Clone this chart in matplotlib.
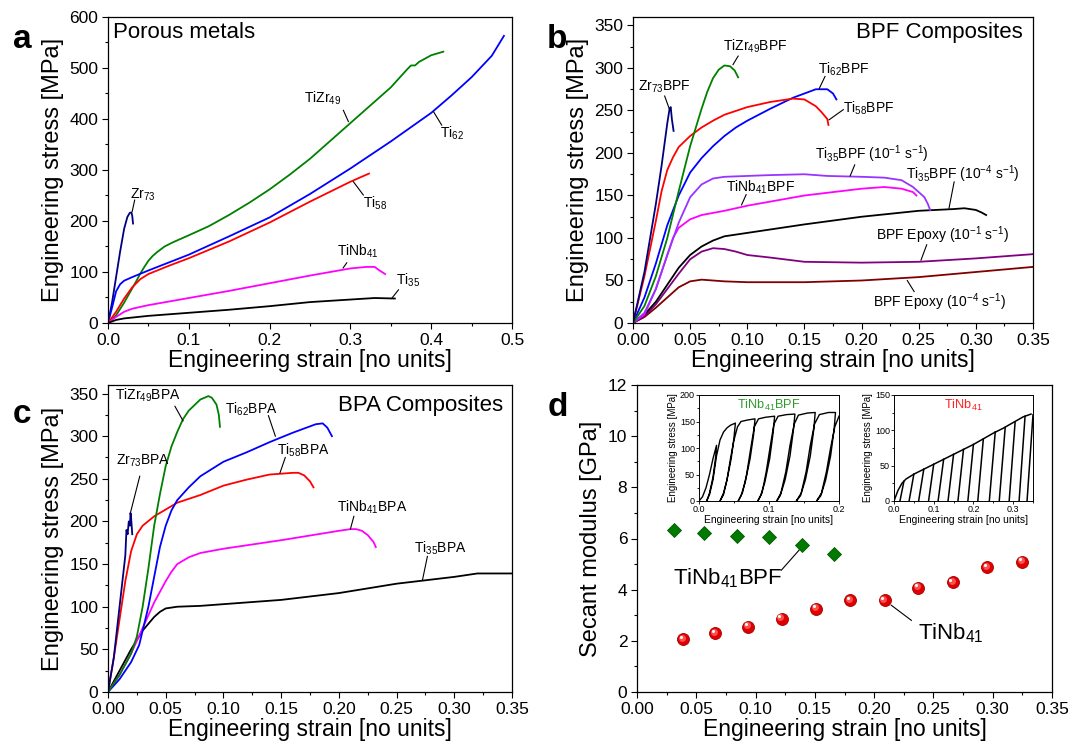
import matplotlib

matplotlib.use("Agg")
import matplotlib.pyplot as plt
import matplotlib.transforms as mtransforms
from matplotlib.ticker import FormatStrFormatter, MultipleLocator

plt.rcParams["font.family"] = ["Liberation Sans", "DejaVu Sans"]
plt.rcParams["mathtext.fontset"] = "custom"
plt.rcParams["mathtext.rm"] = "Liberation Sans"
plt.rcParams["mathtext.it"] = "Liberation Sans:italic"
plt.rcParams["mathtext.bf"] = "Liberation Sans:bold"
plt.rcParams["mathtext.default"] = "regular"

# ---- panel a : porous metals ----
a_zr73_strain = [0, 0.005, 0.01, 0.015, 0.02, 0.024, 0.027, 0.029, 0.030, 0.031]
a_zr73_stress = [0, 40, 90, 140, 185, 208, 216, 217, 210, 195]
a_tizr49_strain = [0, 0.01, 0.02, 0.03, 0.035, 0.04, 0.045, 0.05, 0.055, 0.06, 0.07, 0.08, 0.1, 0.125, 0.15, 0.175,
                   0.2, 0.225, 0.25, 0.275, 0.3, 0.325, 0.35, 0.37, 0.375, 0.38, 0.385, 0.4, 0.415]
a_tizr49_stress = [0, 15, 40, 68, 82, 97, 110, 122, 131, 138, 150, 158, 172, 190, 212, 236,
                   262, 291, 322, 357, 392, 427, 462, 497, 505, 505, 512, 525, 532]
a_ti62_strain = [0, 0.005, 0.01, 0.015, 0.02, 0.03, 0.05, 0.1, 0.15, 0.2, 0.25, 0.3, 0.35, 0.4, 0.425, 0.45, 0.475, 0.49]
a_ti62_stress = [0, 30, 62, 76, 83, 90, 103, 134, 170, 207, 253, 303, 356, 412, 446, 482, 524, 563]
a_ti58_strain = [0, 0.01, 0.02, 0.03, 0.04, 0.05, 0.075, 0.1, 0.15, 0.2, 0.25, 0.3, 0.323]
a_ti58_stress = [0, 22, 48, 70, 86, 96, 112, 127, 160, 197, 238, 277, 293]
a_tinb41_strain = [0, 0.01, 0.02, 0.03, 0.05, 0.1, 0.15, 0.2, 0.25, 0.3, 0.32, 0.33, 0.336, 0.343]
a_tinb41_stress = [0, 12, 22, 28, 35, 49, 63, 78, 93, 107, 110, 110, 103, 96]
a_ti35_strain = [0, 0.01, 0.02, 0.05, 0.1, 0.15, 0.2, 0.25, 0.3, 0.33, 0.355]
a_ti35_stress = [0, 6, 9, 14, 20, 26, 33, 41, 46, 49, 48]

# ---- panel b : BPF composites ----
b_zr73_strain = [0, 0.01, 0.02, 0.025, 0.03, 0.032, 0.033, 0.034, 0.0355]
b_zr73_stress = [0, 60, 140, 185, 235, 252, 254, 240, 226]
b_tizr49_strain = [0, 0.01, 0.02, 0.03, 0.04, 0.05, 0.06, 0.065, 0.07, 0.075, 0.08, 0.085, 0.089, 0.092]
b_tizr49_stress = [0, 20, 55, 100, 155, 208, 252, 272, 288, 298, 303, 302, 297, 289]
b_ti58_strain = [0, 0.01, 0.02, 0.025, 0.03, 0.035, 0.04, 0.05, 0.06, 0.07, 0.08, 0.1, 0.12, 0.14, 0.15, 0.16, 0.165, 0.17, 0.171]
b_ti58_stress = [0, 55, 120, 155, 180, 195, 207, 220, 230, 238, 245, 254, 260, 264, 263, 255, 248, 240, 233]
b_ti62_strain = [0, 0.01, 0.02, 0.03, 0.04, 0.05, 0.06, 0.07, 0.08, 0.09, 0.1, 0.12, 0.14, 0.16, 0.17, 0.175, 0.178]
b_ti62_stress = [0, 30, 70, 115, 150, 177, 194, 208, 220, 230, 238, 252, 265, 275, 275, 270, 263]
b_ti35f_strain = [0, 0.01, 0.02, 0.03, 0.04, 0.05, 0.06, 0.07, 0.08, 0.1, 0.12, 0.15, 0.17, 0.2, 0.22, 0.235, 0.245, 0.255, 0.258, 0.26]
b_ti35f_stress = [0, 12, 40, 80, 118, 148, 163, 170, 172, 173, 174, 175, 173, 172, 171, 168, 160, 148, 140, 133]
b_tinb41_strain = [0, 0.01, 0.02, 0.03, 0.035, 0.04, 0.05, 0.06, 0.08, 0.1, 0.15, 0.2, 0.22, 0.235, 0.245, 0.248]
b_tinb41_stress = [0, 10, 40, 80, 100, 112, 122, 127, 132, 138, 150, 158, 160, 158, 154, 150]
b_ti35s_strain = [0, 0.01, 0.02, 0.03, 0.04, 0.05, 0.06, 0.07, 0.08, 0.1, 0.15, 0.2, 0.25, 0.28, 0.29, 0.3, 0.305, 0.309]
b_ti35s_stress = [0, 10, 25, 45, 65, 80, 90, 97, 102, 106, 116, 125, 132, 134, 135, 133, 130, 127]
b_epoxyf_strain = [0, 0.01, 0.02, 0.03, 0.04, 0.05, 0.06, 0.07, 0.08, 0.09, 0.1, 0.12, 0.15, 0.2, 0.25, 0.3, 0.35]
b_epoxyf_stress = [0, 8, 22, 40, 58, 75, 84, 88, 87, 84, 80, 77, 72, 71, 72, 76, 81]
b_epoxys_strain = [0, 0.01, 0.02, 0.03, 0.04, 0.05, 0.06, 0.07, 0.08, 0.1, 0.15, 0.2, 0.25, 0.3, 0.35]
b_epoxys_stress = [0, 7, 18, 30, 42, 49, 51, 50, 49, 48, 48, 50, 54, 60, 66]

# ---- panel c : BPA composites ----
c_zr73_strain = [0, 0.005, 0.01, 0.015, 0.016, 0.017, 0.018, 0.019, 0.0195, 0.020, 0.021]
c_zr73_stress = [0, 40, 100, 160, 190, 185, 200, 195, 210, 205, 185]
c_tizr49_strain = [0, 0.01, 0.02, 0.025, 0.03, 0.035, 0.04, 0.045, 0.05, 0.055, 0.06, 0.065, 0.07, 0.08, 0.087, 0.09, 0.094, 0.096, 0.097]
c_tizr49_stress = [0, 20, 45, 65, 100, 145, 195, 232, 265, 288, 305, 320, 330, 343, 347, 345, 337, 325, 311]
c_ti62_strain = [0, 0.01, 0.02, 0.027, 0.035, 0.04, 0.045, 0.05, 0.055, 0.06, 0.07, 0.08, 0.1, 0.12, 0.14, 0.16, 0.18, 0.186, 0.19, 0.194]
c_ti62_stress = [0, 15, 35, 55, 100, 135, 170, 195, 213, 225, 240, 253, 270, 281, 293, 304, 314, 315, 310, 300]
c_ti58_strain = [0, 0.005, 0.01, 0.015, 0.02, 0.025, 0.03, 0.04, 0.05, 0.06, 0.08, 0.1, 0.12, 0.14, 0.16, 0.165, 0.17, 0.175, 0.178]
c_ti58_stress = [0, 40, 85, 130, 165, 185, 195, 206, 214, 222, 231, 242, 249, 255, 257, 257, 254, 247, 240]
c_tinb41_strain = [0, 0.01, 0.02, 0.03, 0.04, 0.05, 0.055, 0.06, 0.07, 0.08, 0.1, 0.15, 0.2, 0.21, 0.215, 0.22, 0.225, 0.23, 0.232]
c_tinb41_stress = [0, 20, 45, 75, 105, 130, 141, 150, 158, 163, 168, 178, 189, 191, 191, 189, 184, 176, 170]
c_ti35_strain = [0, 0.01, 0.02, 0.03, 0.04, 0.045, 0.05, 0.06, 0.08, 0.1, 0.15, 0.2, 0.25, 0.3, 0.32, 0.35]
c_ti35_stress = [0, 25, 50, 72, 88, 94, 98, 100, 101, 103, 108, 116, 127, 135, 139, 139]

# ---- panel d : secant modulus ----
d_bpf_strain = [0.031, 0.0565, 0.084, 0.1116, 0.139, 0.1664]
d_bpf_modulus = [6.33, 6.23, 6.10, 6.05, 5.73, 5.40]
d_foam_strain = [0.039, 0.066, 0.094, 0.122, 0.151, 0.180, 0.209, 0.237, 0.2665, 0.2955, 0.325]
d_foam_modulus = [2.06, 2.30, 2.56, 2.86, 3.26, 3.59, 3.59, 4.07, 4.29, 4.88, 5.10]

# inset 1: cyclic test of TiNb41BPF (loading / unloading history)
in1_strain = [0, 0.005, 0.01, 0.015, 0.02, 0.025,
              0.024, 0.02, 0.015, 0.011,
              0.015, 0.02, 0.025, 0.03, 0.035, 0.04, 0.045, 0.052,
              0.05, 0.046, 0.04, 0.035, 0.03,
              0.035, 0.04, 0.045, 0.05, 0.055, 0.06, 0.07, 0.08,
              0.078, 0.073, 0.066, 0.06, 0.056,
              0.062, 0.068, 0.074, 0.079, 0.085, 0.095, 0.108,
              0.106, 0.101, 0.094, 0.088, 0.084,
              0.09, 0.096, 0.102, 0.107, 0.113, 0.125, 0.137,
              0.135, 0.13, 0.123, 0.116, 0.111,
              0.117, 0.124, 0.13, 0.136, 0.142, 0.155, 0.166,
              0.164, 0.159, 0.152, 0.145, 0.139,
              0.146, 0.153, 0.159, 0.165, 0.172, 0.185, 0.195,
              0.193, 0.188, 0.181, 0.174, 0.168,
              0.175, 0.182, 0.188, 0.194, 0.2]
in1_stress = [0, 8, 25, 50, 80, 105,
              85, 45, 15, 0,
              12, 40, 85, 115, 130, 138, 143, 147,
              120, 80, 40, 15, 0,
              12, 40, 80, 115, 140, 150, 153, 155,
              125, 80, 35, 10, 0,
              15, 50, 100, 140, 155, 158, 160,
              130, 80, 35, 10, 0,
              15, 55, 105, 145, 160, 163, 164,
              135, 85, 40, 10, 0,
              15, 55, 105, 145, 162, 166, 167,
              135, 85, 40, 10, 0,
              15, 55, 105, 145, 163, 167, 167,
              135, 85, 40, 10, 0,
              15, 55, 100, 140, 160]

# inset 2: cyclic test of TiNb41 foam
in2_env_strain = [0, 0.01, 0.02, 0.03, 0.05, 0.075, 0.1, 0.125, 0.15, 0.175, 0.2, 0.225, 0.25, 0.275, 0.3, 0.325, 0.345]
in2_env_stress = [0, 15, 25, 31, 38, 45, 52, 59, 66, 73, 80, 88, 96, 103, 111, 119, 123]
in2_peak_strain = [0.025, 0.05, 0.075, 0.1, 0.125, 0.15, 0.175, 0.2, 0.225, 0.255, 0.28, 0.305, 0.33, 0.35]
in2_peak_stress = [28, 38, 45, 52, 59, 66, 73, 80, 88, 98, 104, 112, 120, 122]
in2_resid_strain = [0.015, 0.038, 0.062, 0.087, 0.111, 0.136, 0.161, 0.186, 0.211, 0.24, 0.265, 0.29, 0.315, 0.335]

W, H = 1084, 744
LW = 1.3


def fx(px):
    return px / W


def fy(py):
    return 1 - py / H


def make_axes(fig, left, top, right, bottom):
    return fig.add_axes([fx(left), fy(bottom), (right - left) / W, (bottom - top) / H])


def style_axes(ax, xmax, xmaj, xfmt, ymax, ymaj, ylabel):
    ax.set_xlim(0, xmax)
    ax.set_ylim(0, ymax)
    ax.xaxis.set_major_locator(MultipleLocator(xmaj))
    ax.xaxis.set_minor_locator(MultipleLocator(xmaj / 2))
    ax.yaxis.set_major_locator(MultipleLocator(ymaj))
    ax.yaxis.set_minor_locator(MultipleLocator(ymaj / 2))
    ax.xaxis.set_major_formatter(FormatStrFormatter(xfmt))
    ax.tick_params(which="both", direction="out", top=False, right=False, width=0.8, labelsize=12.5, pad=3)
    ax.tick_params(which="major", length=4)
    ax.tick_params(which="minor", length=2.5)
    for sp in ax.spines.values():
        sp.set_linewidth(0.9)
    ax.set_xlabel("Engineering strain [no units]", fontsize=16.5, labelpad=1)
    ax.set_ylabel(ylabel, fontsize=17, labelpad=4)


def tag(ax, text, tx, ty, x0, y0, x1, y1, size=10, color="black"):
    ax.text(tx, ty, text, fontsize=size, ha="left", va="center", color=color)
    ax.plot([x0, x1], [y0, y1], color="black", lw=0.8)


fig = plt.figure(figsize=(W / 100, H / 100), dpi=100)

# ---------------- a ----------------
ax = make_axes(fig, 108, 17, 512, 323)
ax.plot(a_zr73_strain, a_zr73_stress, color="#000080", lw=LW)
ax.plot(a_tizr49_strain, a_tizr49_stress, color="#008000", lw=LW)
ax.plot(a_ti62_strain, a_ti62_stress, color="#0000ff", lw=LW)
ax.plot(a_ti58_strain, a_ti58_stress, color="#ff0000", lw=LW)
ax.plot(a_tinb41_strain, a_tinb41_stress, color="#ff00ff", lw=LW)
ax.plot(a_ti35_strain, a_ti35_stress, color="black", lw=LW)
style_axes(ax, 0.5, 0.1, "%.1f", 600, 100, "Engineering stress [MPa]")
ax.text(0.012, 0.948, "Porous metals", transform=ax.transAxes, fontsize=16, ha="left", va="center")
tag(ax, "Zr$_{73}$", 0.027, 252, 0.033, 241, 0.030, 219)
tag(ax, "TiZr$_{49}$", 0.242, 440, 0.2913, 417, 0.2975, 395)
tag(ax, "Ti$_{62}$", 0.411, 372, 0.403, 414, 0.413, 388)
tag(ax, "Ti$_{58}$", 0.316, 235, 0.3037, 277, 0.316, 251)
tag(ax, "TiNb$_{41}$", 0.284, 141, 0.291, 108, 0.2955, 118)
tag(ax, "Ti$_{35}$", 0.357, 83, 0.351, 48, 0.3595, 65)

# ---------------- b ----------------
ax = make_axes(fig, 633, 17, 1033, 323)
ax.plot(b_epoxys_strain, b_epoxys_stress, color="#800000", lw=LW)
ax.plot(b_epoxyf_strain, b_epoxyf_stress, color="#800080", lw=LW)
ax.plot(b_ti35s_strain, b_ti35s_stress, color="black", lw=LW)
ax.plot(b_tinb41_strain, b_tinb41_stress, color="#ff00ff", lw=LW)
ax.plot(b_ti35f_strain, b_ti35f_stress, color="#9933ff", lw=LW)
ax.plot(b_ti62_strain, b_ti62_stress, color="#0000ff", lw=LW)
ax.plot(b_ti58_strain, b_ti58_stress, color="#ff0000", lw=LW)
ax.plot(b_tizr49_strain, b_tizr49_stress, color="#008000", lw=LW)
ax.plot(b_zr73_strain, b_zr73_stress, color="#000080", lw=LW)
style_axes(ax, 0.35, 0.05, "%.2f", 360, 50, "Engineering stress [MPa]")
ax.text(0.975, 0.948, "BPF Composites", transform=ax.transAxes, fontsize=16, ha="right", va="center")
tag(ax, "Zr$_{73}$BPF", 0.0044, 278, 0.0277, 267, 0.032, 251)
tag(ax, "TiZr$_{49}$BPF", 0.0788, 326, 0.092, 314, 0.0875, 304)
tag(ax, "Ti$_{62}$BPF", 0.162, 298, 0.168, 290, 0.163, 276)
tag(ax, "Ti$_{58}$BPF", 0.184, 252, 0.184, 251, 0.1715, 239)
tag(ax, "Ti$_{35}$BPF (10$^{-1}$ s$^{-1}$)", 0.159, 198, 0.194, 186, 0.19, 173)
tag(ax, "Ti$_{35}$BPF (10$^{-4}$ s$^{-1}$)", 0.239, 175, 0.281, 166, 0.2765, 135)
tag(ax, "TiNb$_{41}$BPF", 0.0817, 160, 0.099, 151, 0.095, 139)
tag(ax, "BPF Epoxy (10$^{-1}$ s$^{-1}$)", 0.213, 103, 0.257, 92, 0.252, 74)
tag(ax, "BPF Epoxy (10$^{-4}$ s$^{-1}$)", 0.21, 25, 0.246, 37, 0.24, 50)

# ---------------- c ----------------
ax = make_axes(fig, 108, 385, 512, 692)
ax.plot(c_ti35_strain, c_ti35_stress, color="black", lw=LW)
ax.plot(c_tinb41_strain, c_tinb41_stress, color="#ff00ff", lw=LW)
ax.plot(c_ti58_strain, c_ti58_stress, color="#ff0000", lw=LW)
ax.plot(c_ti62_strain, c_ti62_stress, color="#0000ff", lw=LW)
ax.plot(c_tizr49_strain, c_tizr49_stress, color="#008000", lw=LW)
ax.plot(c_zr73_strain, c_zr73_stress, color="#000080", lw=LW)
style_axes(ax, 0.35, 0.05, "%.2f", 360, 50, "Engineering stress [MPa]")
ax.text(0.978, 0.932, "BPA Composites", transform=ax.transAxes, fontsize=16, ha="right", va="center")
tag(ax, "TiZr$_{49}$BPA", 0.0058, 348, 0.058, 335, 0.065, 318)
tag(ax, "Ti$_{62}$BPA", 0.1014, 332, 0.139, 324, 0.145, 300)
tag(ax, "Zr$_{73}$BPA", 0.0072, 271, 0.0275, 253, 0.0194, 210)
tag(ax, "Ti$_{58}$BPA", 0.1463, 284, 0.1536, 275, 0.149, 257)
tag(ax, "TiNb$_{41}$BPA", 0.1985, 217, 0.213, 206, 0.21, 191)
tag(ax, "Ti$_{35}$BPA", 0.265, 168, 0.2767, 159, 0.2724, 131)

# ---------------- d ----------------
ax = make_axes(fig, 637, 385, 1052, 692)
ax.plot(d_bpf_strain, d_bpf_modulus, ls="none", marker="D", ms=7.2, color="#007a00", mec="#005c00", mew=0.6)
ax.plot(d_foam_strain, d_foam_modulus, ls="none", marker="o", ms=8.6, color="#e00000", mec="#a00000", mew=0.6)
shift1 = mtransforms.ScaledTranslation(-1 / 72, 1 / 72, fig.dpi_scale_trans)
shift2 = mtransforms.ScaledTranslation(-1.8 / 72, 1.8 / 72, fig.dpi_scale_trans)
ax.plot(d_foam_strain, d_foam_modulus, ls="none", marker="o", ms=5, color="#ff5050", mew=0, transform=ax.transData + shift1)
ax.plot(d_foam_strain, d_foam_modulus, ls="none", marker="o", ms=2.2, color="white", mew=0, transform=ax.transData + shift2)
style_axes(ax, 0.35, 0.05, "%.2f", 12, 2, "Secant modulus [GPa]")
ax.yaxis.set_major_formatter(FormatStrFormatter("%d"))
tag(ax, "TiNb$_{41}$BPF", 0.0304, 4.43, 0.1217, 4.76, 0.1366, 5.54, size=16)
tag(ax, "TiNb$_{41}$", 0.237, 2.28, 0.2314, 2.8, 0.2145, 3.39, size=16)


def style_inset(ax, xmax, xmaj, ymax, ymaj):
    ax.set_xlim(0, xmax)
    ax.set_ylim(0, ymax)
    ax.xaxis.set_major_locator(MultipleLocator(xmaj))
    ax.xaxis.set_minor_locator(MultipleLocator(xmaj / 2))
    ax.yaxis.set_major_locator(MultipleLocator(ymaj))
    ax.yaxis.set_minor_locator(MultipleLocator(ymaj / 2))
    ax.xaxis.set_major_formatter(FormatStrFormatter("%.1f"))
    ax.tick_params(which="both", direction="out", top=False, right=False, width=0.6, labelsize=6.5, pad=1)
    ax.tick_params(which="major", length=2)
    ax.tick_params(which="minor", length=1.2)
    for sp in ax.spines.values():
        sp.set_linewidth(0.7)
    ax.set_xlabel("Engineering strain [no units]", fontsize=7.5, labelpad=0.5)
    ax.set_ylabel("Engineering stress [MPa]", fontsize=7, labelpad=1)


ins = make_axes(fig, 699, 395, 839, 501)
ins.plot(in1_strain, in1_stress, color="black", lw=1.0)
style_inset(ins, 0.2, 0.1, 200, 50)
ins.text(0.5, 0.9, "TiNb$_{41}$BPF", transform=ins.transAxes, fontsize=9.2, color="#2e9a2e", ha="center", va="center")

ins = make_axes(fig, 894, 395, 1033, 501)
ins.plot(in2_env_strain, in2_env_stress, color="black", lw=1.1)
for ep, sp, er in zip(in2_peak_strain, in2_peak_stress, in2_resid_strain):
    ins.plot([ep, er], [sp, 0], color="black", lw=1.1)
style_inset(ins, 0.35, 0.1, 150, 50)
ins.text(0.5, 0.9, "TiNb$_{41}$", transform=ins.transAxes, fontsize=9.2, color="#ff2020", ha="center", va="center")

# panel letters
for letter, px, py in [("a", 13, 40), ("b", 547, 40), ("c", 13, 415), ("d", 548, 408)]:
    fig.text(fx(px), fy(py), letter, fontsize=24, fontweight="bold", ha="left", va="center")

fig.savefig("out.png", dpi=100)
